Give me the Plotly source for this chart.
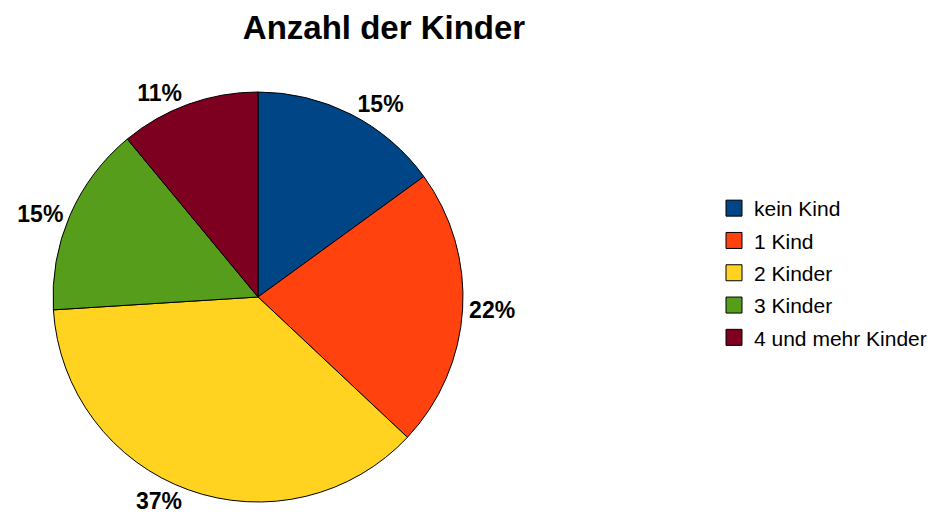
import plotly.graph_objects as go

categories = ["kein Kind", "1 Kind", "2 Kinder", "3 Kinder", "4 und mehr Kinder"]
values = [15, 22, 37, 15, 11]
colors = ["#004586", "#ff420e", "#ffd320", "#579d1c", "#7e0021"]

W, H = 937, 528
OFF = 8  # page body margin
FONT = "Liberation Sans, Arial, sans-serif"

fig = go.Figure()
fig.add_trace(go.Pie(
    labels=categories,
    values=values,
    sort=False,
    direction="clockwise",
    rotation=0,
    marker=dict(colors=colors, line=dict(color="#000000", width=1)),
    texttemplate="<b>%{percent:.0%}</b>",
    textposition="outside",
    outsidetextfont=dict(family=FONT, size=23, color="#000000"),
    domain=dict(x=[(53 - OFF) / W, (463 - OFF) / W], y=[(26 + OFF) / H, (436 + OFF) / H]),
    hoverinfo="label+percent",
    showlegend=False,
))

# legend entries (square swatches), one group each so spacing can be set
for cat, col in zip(categories, colors):
    fig.add_trace(go.Scatter(
        x=[None], y=[None], mode="markers", name=cat, legendgroup=cat,
        marker=dict(symbol="square", size=16, color=col, line=dict(color="#000000", width=1)),
        showlegend=True, hoverinfo="skip",
    ))

fig.update_layout(
    width=W, height=H,
    margin=dict(l=0, r=0, t=0, b=0),
    paper_bgcolor="white",
    plot_bgcolor="white",
    font=dict(family=FONT, color="#000000"),
    xaxis=dict(visible=False),
    yaxis=dict(visible=False),
    title=dict(text="<b>Anzahl der Kinder</b>", x=(384 - OFF) / W, xanchor="center",
               y=1 - (27 - OFF) / H, yanchor="middle",
               font=dict(size=33, family=FONT, color="#000000")),
    legend=dict(x=(714 - OFF) / W, y=1 - (188 - OFF) / H, xanchor="left", yanchor="top",
                font=dict(size=21, family=FONT, color="#000000"),
                itemwidth=30, tracegroupgap=2, bgcolor="rgba(0,0,0,0)"),
    showlegend=True,
)
fig.write_html("out.html")
